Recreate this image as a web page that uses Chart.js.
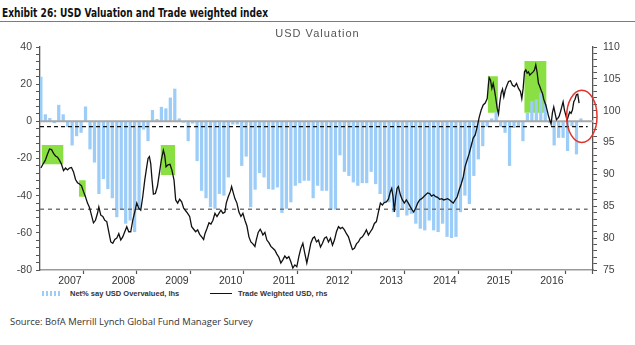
<!DOCTYPE html>
<html><head><meta charset="utf-8">
<title>Exhibit 26: USD Valuation and Trade weighted index</title>
<script src="https://cdn.jsdelivr.net/npm/chart.js@4.4.1/dist/chart.umd.min.js"></script>
<style>
body{margin:0;width:635px;height:345px;background:#fff;position:relative;overflow:hidden;font-family:"Liberation Sans",Arial,sans-serif}
#title{position:absolute;left:2px;top:5px;font:bold 13px "Liberation Sans Narrow","DejaVu Sans Condensed",sans-serif;color:#111;white-space:nowrap;transform-origin:0 0}
#rule{position:absolute;left:0;top:21px;width:635px;border-top:1.5px solid #5a82b4}
#sub{position:absolute;left:0;width:635px;top:27px;text-align:center;font-size:11px;letter-spacing:1px;color:#555;z-index:2}
#box{position:absolute;left:0;top:24px;width:635px;height:262px}
#legend span{position:absolute;top:289px;font:bold 7.5px "Liberation Sans",Arial,sans-serif;color:#333;white-space:nowrap}
#legend .bars{top:291px;width:20px;height:5px;background:repeating-linear-gradient(90deg,#9ccdf8 0 2px,transparent 2px 4px)}
#legend .line{top:293px;width:22px;height:0;border-top:1.5px solid #111}
#source{position:absolute;left:10px;top:315px;font:9.4px "Open Sans",sans-serif;color:#333;white-space:nowrap}
</style></head><body>
<div id="title">Exhibit 26: USD Valuation and Trade weighted index</div>
<div id="rule"></div>
<div id="sub">USD Valuation</div>
<div id="box"><canvas id="chart" width="635" height="262"></canvas></div>
<div id="legend">
<span class="bars" style="left:42px"></span><span style="left:70px">Net% say USD Overvalued, lhs</span>
<span class="line" style="left:210px"></span><span style="left:238px">Trade Weighted USD, rhs</span>
</div>
<div id="source">Source: BofA Merrill Lynch Global Fund Manager Survey</div>
<script>
// x axis unit = months from Jan 2007 (0 = Jan 2007)
var FIRST_MONTH = -1;
var X_MIN = -1.2, X_MAX = 122.7;
var YEARS = [2007, 2008, 2009, 2010, 2011, 2012, 2013, 2014, 2015, 2016];

// Net % say USD overvalued (lhs), monthly, Dec 2006 onward
var NET_OVERVALUED = [23.8, 3.6, 1.6, -0.8, 8.7, 3.6, -2.8, -12.8, -7.8, -6.0, 7.8, -14.9, -22.0,
  -38.9, -30.9, -36.3, -41.2, -51.4, -47.3, -54.9, -53.2, -59.4, -47.3, -4.3, -10.5,
  5.9, 1.1, 7.6, 6.8, 12.6, 17.4, 1.4, -0.5, -10.5, -1.0, -21.2, -37.2,
  -41.2, -46.0, -46.9, -38.9, -39.8, -30.0, -1.5, -1.5, -23.8, -18.8, -46.0, -36.6,
  -27.7, -30.0, -36.3, -36.6, -35.4, -49.1, -46.9, -43.4, -34.5, -33.1, -31.8, -31.8,
  -41.2, -34.5, -37.2, -37.2, -47.3, -47.3, -18.1, -27.0, -29.2, -32.7, -34.5, -33.1,
  -33.1, -27.0, -33.6, -38.9, -43.9, -43.4, -48.7, -51.4, -46.9, -50.5, -49.6, -54.9,
  -57.6, -58.5, -53.2, -58.5, -59.4, -54.9, -62.0, -62.6, -62.0, -48.7, -39.8, -44.3,
  -29.2, -20.3, -13.2, -2.8, 1.4, 5.0, -2.8, -6.0, -23.8, -3.4, -2.8, -10.5,
  4.3, 10.8, 11.7, 15.3, 9.1, -0.7, -12.8, -8.7, -8.7, -15.8, -2.5, -17.6, 1.4];

// Trade weighted USD (rhs)
var TWI_T = [-1.0,-0.55,-0.03,0.49,0.94,1.39,1.83,2.28,2.73,3.18,3.62,4.07,4.52,4.97,5.41,5.86,6.31,6.76,7.2,7.65,
  8.1,8.55,8.99,9.44,9.89,10.33,10.78,11.23,11.68,11.98,12.42,12.87,13.32,13.76,14.21,14.66,15.11,15.55,16.0,16.45,
  16.9,17.34,17.79,18.24,18.69,19.13,19.58,20.03,20.48,20.92,21.37,21.82,22.27,22.71,23.01,23.31,23.61,23.91,24.21,24.65,
  25.1,25.55,25.99,26.44,26.74,27.04,27.49,27.93,28.38,28.83,
  29.2,29.65,30.09,30.54,30.99,31.44,31.88,32.33,32.78,33.23,33.67,34.12,34.57,35.02,35.46,35.76,36.21,36.66,37.1,37.55,
  38.0,38.45,38.89,39.34,39.79,40.24,40.53,40.98,41.43,41.73,42.03,42.47,42.92,43.37,43.82,44.26,44.71,45.16,45.61,46.05,
  46.5,46.95,47.25,47.69,48.14,48.44,48.74,49.19,49.63,50.08,50.53,50.97,51.42,51.87,52.32,52.76,53.21,53.66,54.11,54.55,
  55.0,55.45,55.9,56.34,56.79,57.24,57.69,58.13,58.58,59.03,59.48,59.92,
  60.3,60.75,61.19,61.64,62.09,62.54,62.98,63.43,63.88,64.33,64.77,65.22,65.67,66.12,66.56,67.01,67.46,67.91,68.35,68.8,
  69.25,69.7,70.14,70.59,71.04,71.49,71.93,72.38,72.83,73.28,73.72,74.17,74.62,75.07,75.51,75.96,76.41,76.86,77.3,77.6,
  77.9,78.2,78.5,78.79,79.09,79.54,79.99,80.43,80.88,81.33,81.78,82.22,82.52,82.97,83.42,83.86,84.31,84.76,85.21,85.65,
  86.1,86.55,87.0,87.44,87.89,88.34,88.79,89.23,89.68,90.13,90.58,91.02,
  91.39,91.84,92.28,92.73,93.18,93.63,94.07,94.52,94.97,95.42,95.86,96.31,96.76,97.21,97.65,98.1,98.55,99.0,99.29,99.44,
  99.74,100.04,100.34,100.64,100.93,101.23,101.53,101.83,102.13,102.43,102.72,103.02,103.32,103.77,104.22,104.66,105.11,105.56,106.01,106.45,
  106.75,107.05,107.35,107.65,107.95,108.24,108.54,108.99,109.29,109.59,109.88,110.18,110.48,110.78,111.08,111.38,111.67,112.12,112.42,112.72,
  113.02,113.31,113.61,113.91,114.21,114.51,114.81,115.1,115.4,115.7,116.0,116.3,116.6,116.89,117.19,117.49,117.79,118.09,118.39,118.68,
  118.98,119.28,119.58];
var TWI_V = [91.0,91.6,92.2,93.2,94.0,93.9,93.3,92.9,92.7,92.2,91.6,90.6,91.0,90.7,91.0,91.1,90.4,89.2,88.7,88.5,
  88.2,87.3,86.5,85.5,84.8,83.6,82.4,82.8,83.9,84.9,83.6,83.4,82.8,82.6,81.0,79.4,79.2,79.8,80.0,80.7,
  79.7,80.2,81.0,81.8,81.0,81.0,82.8,84.1,85.5,84.7,84.4,86.5,89.1,91.2,92.5,92.8,91.7,89.1,86.9,87.0,
  88.1,90.2,92.3,93.8,93.0,91.2,91.5,91.6,90.6,89.1,
  86.0,85.5,86.1,85.7,84.7,84.3,83.9,83.4,81.8,81.4,81.0,81.3,80.6,80.2,79.8,80.7,81.5,82.4,82.2,82.8,
  83.9,83.4,83.9,84.4,83.9,84.1,85.5,86.5,87.3,88.1,87.3,86.2,85.5,84.1,83.4,83.9,82.8,81.9,80.2,79.4,
  79.1,78.7,79.7,80.9,81.4,81.0,80.5,80.9,79.7,79.3,78.7,78.4,78.1,77.5,77.0,76.1,76.6,77.2,76.8,77.1,
  76.3,75.3,75.8,75.5,77.1,78.4,79.2,77.6,76.1,77.6,79.2,80.0,
  80.2,79.4,79.7,78.6,79.2,80.0,80.2,79.4,80.0,78.9,79.7,81.0,81.8,81.5,81.7,81.3,80.7,80.2,79.2,78.2,
  78.4,79.1,79.4,80.0,80.2,80.7,81.3,80.5,81.0,81.5,82.3,82.6,84.1,85.5,85.2,85.6,85.7,86.1,87.3,87.8,
  86.5,84.1,86.5,87.8,88.1,86.8,86.0,85.5,86.0,85.5,84.9,84.4,84.1,84.7,85.5,86.0,86.2,86.5,86.8,87.1,
  87.0,86.6,86.8,86.5,86.4,86.1,86.2,86.0,86.1,86.2,86.0,85.7,
  85.5,86.0,86.5,87.6,88.5,89.6,91.3,92.3,93.3,94.5,95.7,96.2,97.5,99.0,100.1,100.9,101.2,101.9,104.3,105.2,
  104.8,103.5,104.3,103.2,101.9,100.4,99.5,101.4,102.8,103.4,102.2,103.2,103.8,104.6,104.7,104.0,103.8,104.3,103.5,103.0,
  101.9,103.5,106.1,106.4,105.9,106.1,105.6,105.9,106.1,106.4,107.2,106.0,104.3,103.8,103.2,102.7,101.8,100.9,100.1,99.2,
  98.5,97.9,99.7,100.6,99.6,98.6,98.8,99.1,99.8,100.6,101.4,100.1,99.3,98.5,99.2,99.8,99.6,100.1,101.4,101.8,
  102.5,102.6,101.2];

// reference levels (lhs)
var BLACK_DASH = -2.8;
var GREY_DASH = -47.3;
// green highlight boxes: [from month, to month, low rhs, high rhs]
var HIGHLIGHTS = [[-0.85, 4.07, 91.6, 94.6], [7.5, 9.07, 86.5, 89.1], [25.8, 29.1, 89.9, 94.6],
  [99.1, 101.4, 99.7, 105.4], [107.3, 112.3, 99.7, 107.8]];
// red circle round the latest readings (rhs units)
var ELLIPSE = {x: 120.2, y: 99.1, rx: 3.4, ry: 4.1};

// squeeze the heading to the width of the original (it used a narrow face)
var ttl = document.getElementById('title');
ttl.style.transform = 'scaleX(' + (266 / ttl.getBoundingClientRect().width) + ')';

Chart.defaults.font.family = "'Liberation Sans', Arial, sans-serif";

var barPts = NET_OVERVALUED.map(function(v, i) { return {x: FIRST_MONTH + i, y: v}; });
var twiPts = TWI_T.map(function(t, i) { return {x: t, y: TWI_V[i]}; });
function hline(v) { return [{x: X_MIN, y: v}, {x: X_MAX, y: v}]; }

var datasets = [];
HIGHLIGHTS.forEach(function(h) {
  datasets.push({type: 'line', data: [{x: h[0], y: h[3]}, {x: h[1], y: h[3]}], yAxisID: 'y1',
    borderWidth: 0, pointRadius: 0, fill: {value: h[2]}, backgroundColor: '#8ae043', order: 5});
});
datasets.push({type: 'bar', label: 'Net% say USD Overvalued, lhs', data: barPts, yAxisID: 'y',
  backgroundColor: '#9ccdf8', barThickness: 2.6, order: 4});
datasets.push({type: 'line', data: hline(0), yAxisID: 'y', borderColor: '#a8a8a8', borderWidth: 2, pointRadius: 0, order: 3});
datasets.push({type: 'line', data: [{x: X_MIN, y: BLACK_DASH}, {x: 121.5, y: BLACK_DASH}], yAxisID: 'y',
  borderColor: '#111', borderWidth: 1.3, borderDash: [4, 3], pointRadius: 0, order: 2});
datasets.push({type: 'line', data: [{x: X_MIN, y: GREY_DASH}, {x: 121.5, y: GREY_DASH}], yAxisID: 'y',
  borderColor: '#777', borderWidth: 1.6, borderDash: [4, 4], pointRadius: 0, order: 2});
datasets.push({type: 'line', label: 'Trade Weighted USD, rhs', data: twiPts, yAxisID: 'y1',
  borderColor: '#111', borderWidth: 1.3, pointRadius: 0, tension: 0, order: 1});

function isMid(v) { return Math.abs(((v - 5.5) % 12 + 12) % 12) < 0.01; }

var ellipsePlugin = {
  id: 'ellipse',
  afterDatasetsDraw: function(chart) {
    var xs = chart.scales.x, ys = chart.scales.y1, ctx = chart.ctx;
    var cx = xs.getPixelForValue(ELLIPSE.x), cy = ys.getPixelForValue(ELLIPSE.y);
    var rx = Math.abs(xs.getPixelForValue(ELLIPSE.x + ELLIPSE.rx) - cx);
    var ry = Math.abs(ys.getPixelForValue(ELLIPSE.y + ELLIPSE.ry) - cy);
    ctx.save();
    ctx.strokeStyle = '#e3342b';
    ctx.lineWidth = 1.5;
    ctx.beginPath();
    ctx.ellipse(cx, cy, rx, ry, 0, 0, Math.PI * 2);
    ctx.stroke();
    ctx.restore();
  }
};

new Chart(document.getElementById('chart'), {
  type: 'line',
  data: {datasets: datasets},
  plugins: [ellipsePlugin],
  options: {
    responsive: false, animation: false,
    layout: {padding: {top: 23, bottom: 0, left: 0, right: 0}},
    plugins: {legend: {display: false}, tooltip: {enabled: false}},
    scales: {
      x: {
        type: 'linear', min: X_MIN, max: X_MAX, offset: false,
        afterBuildTicks: function(s) {
          var t = [];
          for (var k = 0; k <= YEARS.length; k++) {
            t.push({value: -0.5 + 12 * k});
            if (k < YEARS.length) t.push({value: 5.5 + 12 * k});
          }
          s.ticks = t;
        },
        afterFit: function(s) { s.height = 16; },
        grid: {drawOnChartArea: false, tickLength: 4, tickWidth: 1.2,
          tickColor: function(c) { return c.tick && isMid(c.tick.value) ? 'rgba(0,0,0,0)' : '#555'; }},
        border: {color: '#9a9a9a', width: 1.5},
        ticks: {autoSkip: false, maxRotation: 0, padding: 1, color: '#333', font: {size: 10.5},
          callback: function(v) { return isMid(v) ? String(YEARS[Math.round((v - 5.5) / 12)]) : ''; }}
      },
      y: {
        position: 'left', min: -80, max: 40,
        afterBuildTicks: function(s) { var t = []; for (var v = -80; v <= 40; v += 4) t.push({value: v}); s.ticks = t; },
        afterFit: function(s) { s.width = 40; },
        grid: {drawOnChartArea: false, tickLength: 4, color: '#555'},
        border: {color: '#555', width: 1.3},
        ticks: {autoSkip: false, padding: 4, color: '#444', font: {size: 10.5},
          callback: function(v) { return v % 20 === 0 ? String(v) : ''; }}
      },
      y1: {
        position: 'right', min: 75, max: 110,
        afterBuildTicks: function(s) { var t = []; for (var v = 75; v <= 110; v += 1) t.push({value: v}); s.ticks = t; },
        afterFit: function(s) { s.width = 42; },
        grid: {drawOnChartArea: false, tickLength: 4, color: '#555'},
        border: {color: '#555', width: 1.3},
        ticks: {autoSkip: false, padding: 6, color: '#444', font: {size: 10.5},
          callback: function(v) { return v % 5 === 0 ? String(v) : ''; }}
      }
    }
  }
});
</script>
</body></html>
